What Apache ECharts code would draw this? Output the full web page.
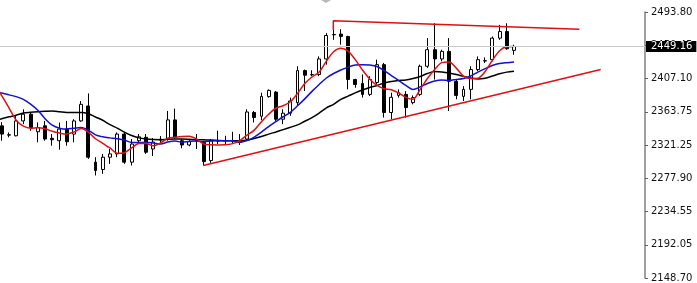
<!DOCTYPE html>
<html><head><meta charset="utf-8">
<script src="https://cdn.jsdelivr.net/npm/echarts@6/dist/echarts.min.js"></script>
<style>html,body{margin:0;padding:0;background:#fff}#c{width:697px;height:283px}</style>
</head><body><div id="c"></div>
<script>
// candles: [open, close, low, high], bar index 0..71
const candles = [
[2346.1,2335.4,2326.8,2350.9],[2334.5,2334.1,2331.2,2337.6],[2333.2,2352.5,2332.5,2359.0],[2352.5,2361.2,2348.3,2367.6],
[2361.2,2344.0,2339.7,2363.4],[2338.4,2344.0,2324.7,2350.5],[2346.1,2329.0,2326.8,2352.5],[2329.9,2328.1,2320.3,2335.4],
[2326.8,2341.9,2315.2,2350.5],[2341.9,2325.5,2320.3,2352.5],[2335.4,2352.5,2324.7,2354.7],[2352.5,2374.0,2351.3,2378.3],
[2371.9,2305.4,2303.2,2388.2],[2299.0,2288.2,2281.7,2305.4],[2289.5,2305.4,2283.9,2309.7],[2305.4,2309.7,2296.8,2316.1],
[2309.7,2335.4,2305.4,2337.6],[2335.4,2299.0,2296.8,2337.6],[2299.0,2322.5,2294.6,2329.0],[2326.8,2331.9,2324.7,2335.4],
[2331.2,2311.9,2309.7,2335.4],[2316.1,2325.1,2307.0,2330.3],[2327.5,2328.9,2323.8,2332.8],[2329.0,2353.8,2326.8,2365.4],
[2353.8,2331.2,2329.0,2368.5],[2326.8,2321.3,2317.0,2329.0],[2321.3,2325.5,2319.6,2329.0],[2326.3,2326.8,2316.1,2335.4],
[2324.7,2299.7,2294.6,2326.8],[2301.0,2326.8,2298.1,2329.0],[2326.3,2326.8,2322.5,2339.7],[2327.2,2326.8,2322.5,2333.2],
[2326.4,2326.8,2322.5,2338.4],[2324.7,2326.8,2321.3,2335.4],[2329.0,2364.1,2326.8,2367.6],[2363.4,2356.9,2350.5,2365.4],
[2358.6,2384.3,2353.4,2389.1],[2384.0,2392.1,2382.7,2393.4],[2389.9,2354.7,2352.5,2391.2],[2354.7,2362.5,2348.3,2367.6],
[2362.5,2378.3,2359.0,2382.7],[2376.2,2417.8,2371.9,2423.4],[2417.8,2411.8,2391.2,2419.1],[2412.3,2412.7,2410.5,2418.2],
[2412.7,2432.9,2410.5,2436.2],[2432.9,2463.3,2425.5,2466.4],[2464.6,2464.2,2457.7,2470.6],[2465.1,2462.0,2451.3,2471.5],
[2462.0,2406.2,2393.4,2463.0],[2406.2,2399.8,2395.5,2407.1],[2401.1,2386.9,2382.7,2412.7],[2386.9,2406.2,2384.7,2410.5],
[2402.4,2425.5,2397.6,2432.0],[2425.5,2363.4,2356.9,2427.7],[2363.4,2383.1,2354.7,2389.1],[2385.6,2389.1,2382.7,2393.4],
[2386.9,2369.8,2356.9,2391.2],[2376.2,2382.7,2374.0,2385.6],[2386.9,2423.4,2384.7,2425.5],[2423.4,2444.9,2421.3,2459.9],
[2444.9,2432.9,2406.2,2479.2],[2432.9,2442.7,2429.8,2444.9],[2442.7,2404.0,2365.4,2459.9],[2403.7,2385.6,2380.5,2406.2],
[2384.3,2393.4,2378.3,2397.6],[2393.4,2419.1,2380.5,2423.4],[2419.1,2432.0,2416.9,2436.2],[2430.2,2430.7,2427.7,2434.9],
[2432.0,2459.9,2429.8,2462.0],[2459.9,2468.4,2457.7,2477.1],[2468.4,2446.2,2444.9,2479.2],[2444.0,2449.16,2438.4,2451.3]
];
// moving averages, starting at bar index -1
const maStart = -1;
const maFast = [2399.8,2385.2,2369.5,2353.4,2345.7,2343.1,2343.6,2342.4,2339.0,2336.7,2335.4,2338.0,2342.5,2338.0,2329.4,2323.4,2317.4,2310.6,2311.3,2317.4,2323.2,2323.3,2320.2,2323.8,2330.0,2331.3,2332.3,2332.5,2329.0,2322.5,2321.5,2321.3,2321.5,2323.0,2327.0,2334.1,2340.6,2351.5,2361.2,2368.9,2372.1,2377.3,2388.2,2401.1,2409.5,2415.9,2430.1,2442.3,2446.8,2443.0,2432.0,2418.5,2406.9,2398.5,2394.3,2393.0,2388.9,2383.1,2380.5,2393.4,2407.5,2419.1,2428.1,2428.8,2421.0,2410.7,2407.5,2407.9,2416.5,2431.1,2443.6,2448.7,2449.1];
const maMid = [2390.1,2388.6,2386.3,2384.0,2380.5,2374.3,2366.3,2355.4,2347.0,2343.1,2341.9,2342.9,2343.8,2340.6,2334.4,2331.9,2330.5,2329.4,2327.7,2324.5,2324.5,2324.7,2323.8,2322.5,2325.1,2326.4,2324.9,2326.0,2326.4,2325.5,2326.4,2326.8,2326.8,2326.8,2324.7,2327.0,2331.5,2338.0,2345.1,2351.5,2357.9,2363.7,2372.1,2381.1,2390.8,2399.8,2408.2,2414.0,2418.5,2422.3,2424.9,2425.5,2424.9,2423.0,2417.8,2411.4,2405.0,2398.5,2393.4,2396.6,2401.1,2404.3,2405.6,2405.0,2406.2,2407.5,2410.7,2415.9,2420.4,2424.3,2426.9,2428.1,2429.0];
const maSlow = [2352.1,2355.4,2357.8,2359.9,2362.7,2363.7,2364.4,2364.9,2365.3,2364.4,2363.4,2363.4,2363.4,2361.8,2357.6,2353.4,2347.6,2343.1,2338.0,2333.5,2330.5,2329.0,2328.3,2328.2,2328.7,2329.0,2329.0,2328.6,2328.1,2327.9,2327.7,2327.2,2326.8,2326.8,2326.9,2327.7,2329.6,2332.2,2335.4,2338.2,2341.2,2344.2,2347.3,2352.1,2356.7,2362.7,2369.5,2374.0,2380.5,2384.6,2388.9,2392.7,2395.9,2398.5,2401.7,2403.7,2405.0,2405.6,2407.5,2410.1,2414.0,2416.5,2415.9,2414.6,2412.7,2410.3,2408.3,2406.8,2407.8,2410.7,2413.7,2415.8,2416.9];
// trend lines (bar index, price)
const upperTrendX = [45.96, 45.96, 80.06];
const upperTrendY = [2470.6, 2482.6, 2471.5];
const lowerTrendX = [27.94, 83.02];
const lowerTrendY = [2294.6, 2419.1];
// price axis
const tickLabels = ['2148.70','2192.05','2234.55','2277.90','2321.25','2363.75','2407.10','2450.45','2493.80'];
const yMin = 2148.70, yMax = 2493.80;
const lastPrice = 2449.16;

const yInterval = (yMax - yMin) / (tickLabels.length - 1);
const candleData = candles.map((c, i) => [i, c[0], c[1], c[2], c[3]]);
const maSeries = (arr) => arr.map((v, k) => [k + maStart, v]);
const zip = (xs, ys) => xs.map((x, k) => [x, ys[k]]);

const chart = echarts.init(document.getElementById('c'), null, {renderer: 'canvas'});
chart.setOption({
  animation: false,
  backgroundColor: '#ffffff',
  grid: {left: 0, right: 52, top: 12, bottom: 3, containLabel: false},
  xAxis: {type: 'value', min: -0.24, max: 89.16, show: false},
  yAxis: {
    type: 'value', position: 'right', min: yMin, max: yMax, interval: yInterval,
    axisLine: {show: true, onZero: false, lineStyle: {color: '#808080', width: 1.5}},
    axisTick: {show: true, length: 3, lineStyle: {color: '#606060'}},
    splitLine: {show: false},
    axisLabel: {
      margin: 6, color: '#111', fontFamily: 'DejaVu Sans', fontSize: 10,
      formatter: (v) => tickLabels[Math.round((v - yMin) / yInterval)] || ''
    }
  },
  graphic: [{
    type: 'polygon', shape: {points: [[321, 0], [331, 0], [326, 3]]},
    style: {fill: '#b8b8b8'}
  }],
  series: [
    {
      type: 'candlestick', z: 1, barWidth: 3.4,
      encode: {x: 0, y: [1, 2, 3, 4]},
      data: candleData,
      itemStyle: {color: '#ffffff', color0: '#000000', borderColor: '#000000', borderColor0: '#000000', borderWidth: 1},
      markLine: {
        silent: true, symbol: ['none', 'none'], animation: false,
        lineStyle: {color: '#c8c8c8', width: 1, type: 'solid'},
        label: {
          show: true, position: 'end', distance: 1, formatter: lastPrice.toFixed(2),
          backgroundColor: '#000', color: '#fff', fontFamily: 'DejaVu Sans', fontSize: 10,
          padding: [0, 4, 0, 5], lineHeight: 11
        },
        data: [{yAxis: lastPrice}]
      }
    },
    {type: 'line', z: 3, data: maSeries(maSlow), showSymbol: false, smooth: 0.3,
     lineStyle: {color: '#000000', width: 1.5}},
    {type: 'line', z: 3, data: maSeries(maMid), showSymbol: false, smooth: 0.3,
     lineStyle: {color: '#1010d8', width: 1.5}},
    {type: 'line', z: 4, data: maSeries(maFast), showSymbol: false, smooth: 0.3,
     lineStyle: {color: '#e01010', width: 1.5}},
    {type: 'line', z: 4, data: zip(upperTrendX, upperTrendY), showSymbol: false,
     lineStyle: {color: '#e01010', width: 1.5}},
    {type: 'line', z: 4, data: zip(lowerTrendX, lowerTrendY), showSymbol: false,
     lineStyle: {color: '#e01010', width: 1.5}}
  ]
});
</script></body></html>
